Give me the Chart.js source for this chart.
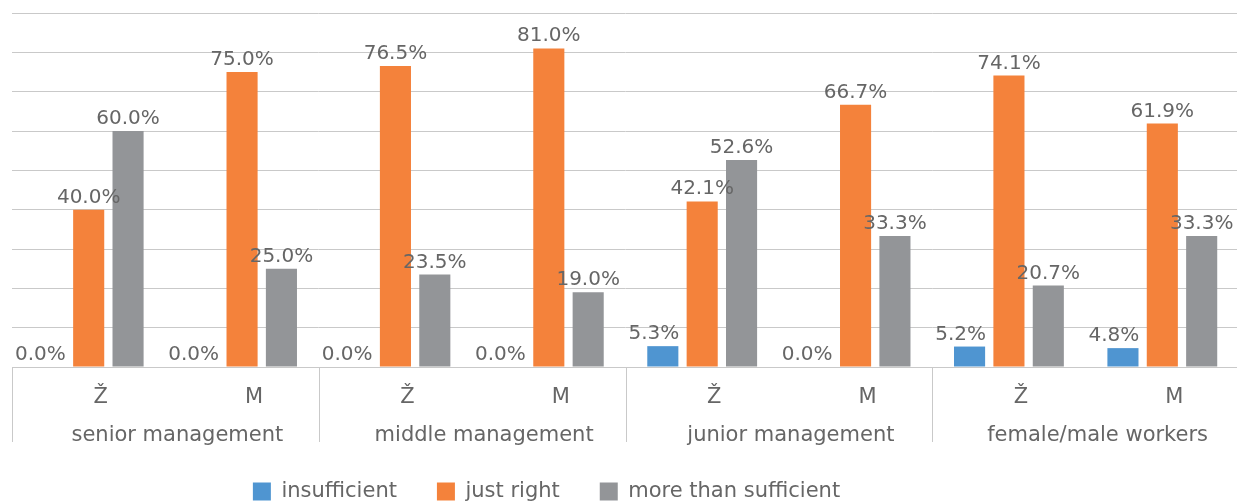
<!DOCTYPE html>
<html>
<head>
<meta charset="utf-8">
<script src="https://cdn.jsdelivr.net/npm/chart.js@4.4.1/dist/chart.umd.min.js"></script>
<style>
  html, body { margin: 0; padding: 0; background: #fff; overflow: hidden; }
  #wrap { position: relative; width: 1239px; height: 518px; }
</style>
</head>
<body>
<div id="wrap"><canvas id="chart"></canvas></div>
<script>
// Categories: gender within each management level
const categories = ['Ž', 'M', 'Ž', 'M', 'Ž', 'M', 'Ž', 'M'];
const groups = ['senior management', 'middle management', 'junior management', 'female/male workers'];

// Series (percent of respondents)
const seriesNames = ['insufficient', 'just right', 'more than sufficient'];
const insufficient = [0.0, 0.0, 0.0, 0.0, 5.3, 0.0, 5.2, 4.8];
const justRight = [40.0, 75.0, 76.5, 81.0, 42.1, 66.7, 74.1, 61.9];
const moreThanSufficient = [60.0, 25.0, 23.5, 19.0, 52.6, 33.3, 20.7, 33.3];

// Value axis range
const yMin = 0;
const yMax = 90;
const yStep = 10;

const seriesColors = ['#4f95d1', '#f4823b', '#939598'];
const textColor = '#666666';
const lineColor = '#c9c9c9';
const FONT = '"DejaVu Sans", Verdana, sans-serif';

// Value labels above each bar
const valueLabels = {
  id: 'valueLabels',
  afterDatasetsDraw(chart) {
    const ctx = chart.ctx;
    ctx.save();
    ctx.font = '20px ' + FONT;
    ctx.fillStyle = textColor;
    ctx.textAlign = 'center';
    ctx.textBaseline = 'alphabetic';
    chart.data.datasets.forEach((ds, di) => {
      const meta = chart.getDatasetMeta(di);
      const dx = di === 0 ? -9 : 0;
      meta.data.forEach((bar, i) => {
        const v = ds.data[i];
        ctx.fillText(v.toFixed(1) + '%', bar.x + dx, bar.y - 7);
      });
    });
    ctx.restore();
  }
};

// Vertical separators between management levels, through both label rows
const groupSeparators = {
  id: 'groupSeparators',
  afterDraw(chart) {
    const x = chart.scales.x;
    const x2 = chart.scales.x2;
    const ctx = chart.ctx;
    const edges = [x.left];
    for (let i = 2; i < categories.length; i += 2) {
      edges.push((x.getPixelForValue(i - 1) + x.getPixelForValue(i)) / 2);
    }
    edges.push(x.right);
    const bottom = x2.top + 27;
    ctx.save();
    ctx.strokeStyle = lineColor;
    ctx.lineWidth = 1;
    ctx.beginPath();
    edges.forEach(px => {
      const xx = Math.round(px) + 0.5;
      ctx.moveTo(xx, x.top);
      ctx.lineTo(xx, bottom);
    });
    ctx.stroke();
    ctx.restore();
  }
};

// Nudge the legend row left of centre and a little upward
const legendShift = {
  id: 'legendShift',
  afterLayout(chart) {
    const lg = chart.legend;
    if (lg) {
      lg.left -= 79; lg.right -= 79;
      lg.top -= 6; lg.bottom -= 6;
    }
  }
};

const datasets = [insufficient, justRight, moreThanSufficient].map((vals, i) => ({
  label: seriesNames[i],
  data: vals,
  backgroundColor: seriesColors[i],
  borderWidth: 0,
  categoryPercentage: 0.77,
  barPercentage: 0.79
}));

new Chart(document.getElementById('chart'), {
  type: 'bar',
  data: { labels: categories, datasets },
  options: {
    responsive: true,
    maintainAspectRatio: false,
    animation: false,
    layout: { padding: { top: 13, left: 12, right: 0, bottom: 0 } },
    plugins: {
      tooltip: { enabled: false },
      legend: {
        position: 'bottom',
        labels: {
          color: textColor,
          font: { family: FONT, size: 21 },
          boxWidth: 18,
          boxHeight: 18,
          padding: 40
        }
      }
    },
    scales: {
      x: {
        grid: { display: false },
        border: { color: lineColor },
        ticks: {
          color: textColor,
          font: { family: FONT, size: 21 },
          padding: 10,
          labelOffset: 12,
          autoSkip: false,
          maxRotation: 0
        },
        afterFit(s) { s.height = 48; }
      },
      x2: {
        type: 'category',
        labels: groups,
        position: 'bottom',
        offset: true,
        grid: { display: false },
        border: { display: false },
        ticks: {
          color: textColor,
          font: { family: FONT, size: 21 },
          padding: 0,
          labelOffset: 12,
          autoSkip: false,
          maxRotation: 0
        },
        afterFit(s) { s.height = 32; }
      },
      y: {
        min: yMin,
        max: yMax,
        ticks: { stepSize: yStep, display: false },
        grid: { color: lineColor, drawTicks: false },
        border: { display: false },
        afterFit(s) { s.width = 0; }
      }
    }
  },
  plugins: [valueLabels, groupSeparators, legendShift]
});
</script>
</body>
</html>
